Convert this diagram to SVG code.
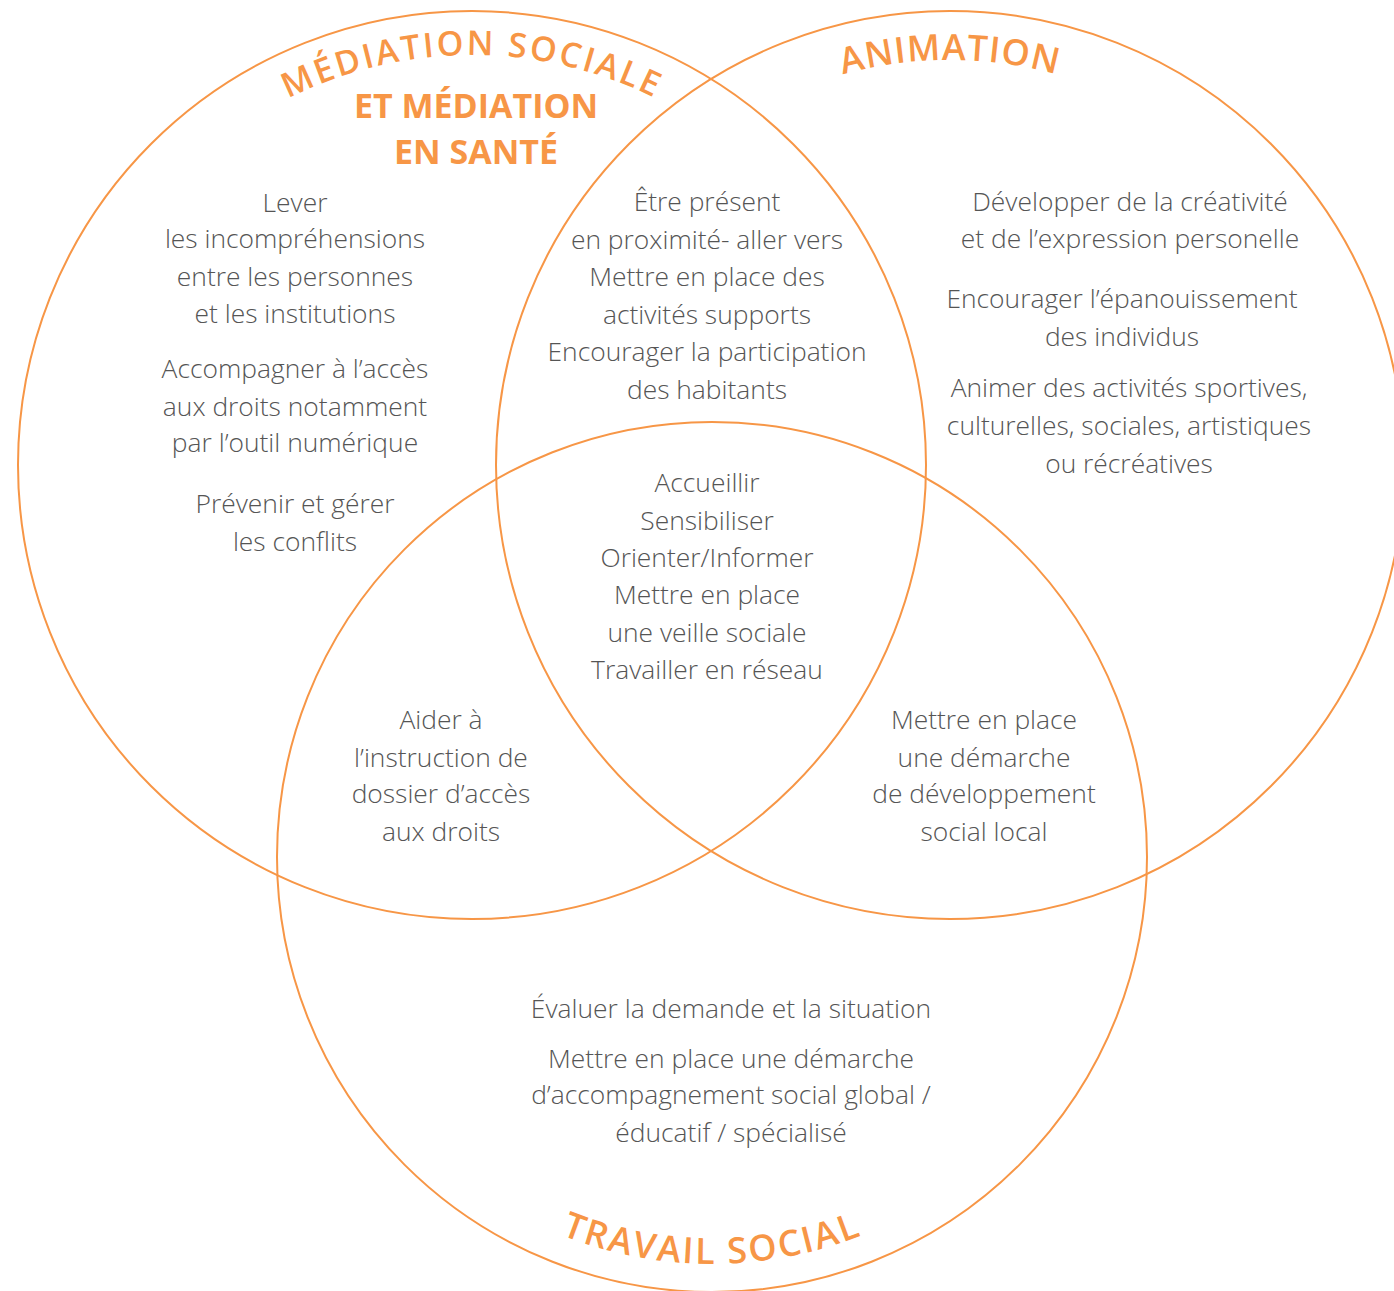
<svg xmlns="http://www.w3.org/2000/svg" width="1394" height="1291" viewBox="0 0 1394 1291">
<style>
.ring{fill:none;stroke:#F79646;stroke-width:2}
.body{font-family:"Open Sans","Liberation Sans",sans-serif;font-weight:300;font-size:26.4px;fill:#555555;text-anchor:middle}
.arc{font-family:"Open Sans","Liberation Sans",sans-serif;font-weight:600;fill:#F79646;text-anchor:middle}
.title{font-family:"Open Sans","Liberation Sans",sans-serif;font-weight:700;font-size:34px;fill:#F79646;text-anchor:middle}
</style>
<defs>
<path id="pLeft" d="M 62,465 A 410 410 0 0 1 882,465"/>
<path id="pRight" d="M 545,465 A 405 405 0 0 1 1355,465"/>
<path id="pBottom" d="M 305,857 A 407 407 0 0 0 1119,857"/>
</defs>
<rect width="1394" height="1291" fill="#ffffff"/>

<g id="circle-mediation">
<circle class="ring" cx="472" cy="465" r="454"/>
<text class="arc" font-size="34" letter-spacing="2.6"><textPath href="#pLeft" startOffset="50%">MÉDIATION SOCIALE</textPath></text>
<text class="title" x="476" y="118">ET MÉDIATION</text>
<text class="title" x="476" y="164">EN SANTÉ</text>
<text class="body"><tspan x="295" y="212">Lever</tspan><tspan x="295" y="248">les incompréhensions</tspan><tspan x="295" y="286">entre les personnes</tspan><tspan x="295" y="323">et les institutions</tspan><tspan x="295" y="378">Accompagner à l’accès</tspan><tspan x="295" y="416">aux droits notamment</tspan><tspan x="295" y="452">par l’outil numérique</tspan><tspan x="295" y="513">Prévenir et gérer</tspan><tspan x="295" y="551">les conflits</tspan></text>
</g>

<g id="circle-animation">
<circle class="ring" cx="950" cy="465" r="454"/>
<text class="arc" font-size="36" letter-spacing="1"><textPath href="#pRight" startOffset="50%">ANIMATION</textPath></text>
<text class="body"><tspan x="1130" y="211">Développer de la créativité</tspan><tspan x="1130" y="248">et de l’expression personelle</tspan><tspan x="1122" y="308">Encourager l’épanouissement</tspan><tspan x="1122" y="346">des individus</tspan><tspan x="1129" y="397">Animer des activités sportives,</tspan><tspan x="1129" y="435">culturelles, sociales, artistiques</tspan><tspan x="1129" y="473">ou récréatives</tspan></text>
</g>

<g id="circle-travail-social">
<circle class="ring" cx="712" cy="857" r="435"/>
<text class="arc" font-size="36" letter-spacing="2.2"><textPath href="#pBottom" startOffset="50%">TRAVAIL SOCIAL</textPath></text>
<text class="body"><tspan x="731" y="1018">Évaluer la demande et la situation</tspan><tspan x="731" y="1068">Mettre en place une démarche</tspan><tspan x="731" y="1104">d’accompagnement social global /</tspan><tspan x="731" y="1142">éducatif / spécialisé</tspan></text>
</g>

<g id="overlap-mediation-animation">
<text class="body"><tspan x="707" y="211">Être présent</tspan><tspan x="707" y="249">en proximité- aller vers</tspan><tspan x="707" y="286">Mettre en place des</tspan><tspan x="707" y="324">activités supports</tspan><tspan x="707" y="361">Encourager la participation</tspan><tspan x="707" y="399">des habitants</tspan></text>
</g>

<g id="overlap-all">
<text class="body"><tspan x="707" y="492">Accueillir</tspan><tspan x="707" y="530">Sensibiliser</tspan><tspan x="707" y="567">Orienter/Informer</tspan><tspan x="707" y="604">Mettre en place</tspan><tspan x="707" y="642">une veille sociale</tspan><tspan x="707" y="679">Travailler en réseau</tspan></text>
</g>

<g id="overlap-mediation-travail">
<text class="body"><tspan x="441" y="729">Aider à</tspan><tspan x="441" y="767">l’instruction de</tspan><tspan x="441" y="803">dossier d’accès</tspan><tspan x="441" y="841">aux droits</tspan></text>
</g>

<g id="overlap-animation-travail">
<text class="body"><tspan x="984" y="729">Mettre en place</tspan><tspan x="984" y="767">une démarche</tspan><tspan x="984" y="803">de développement</tspan><tspan x="984" y="841">social local</tspan></text>
</g>
</svg>
